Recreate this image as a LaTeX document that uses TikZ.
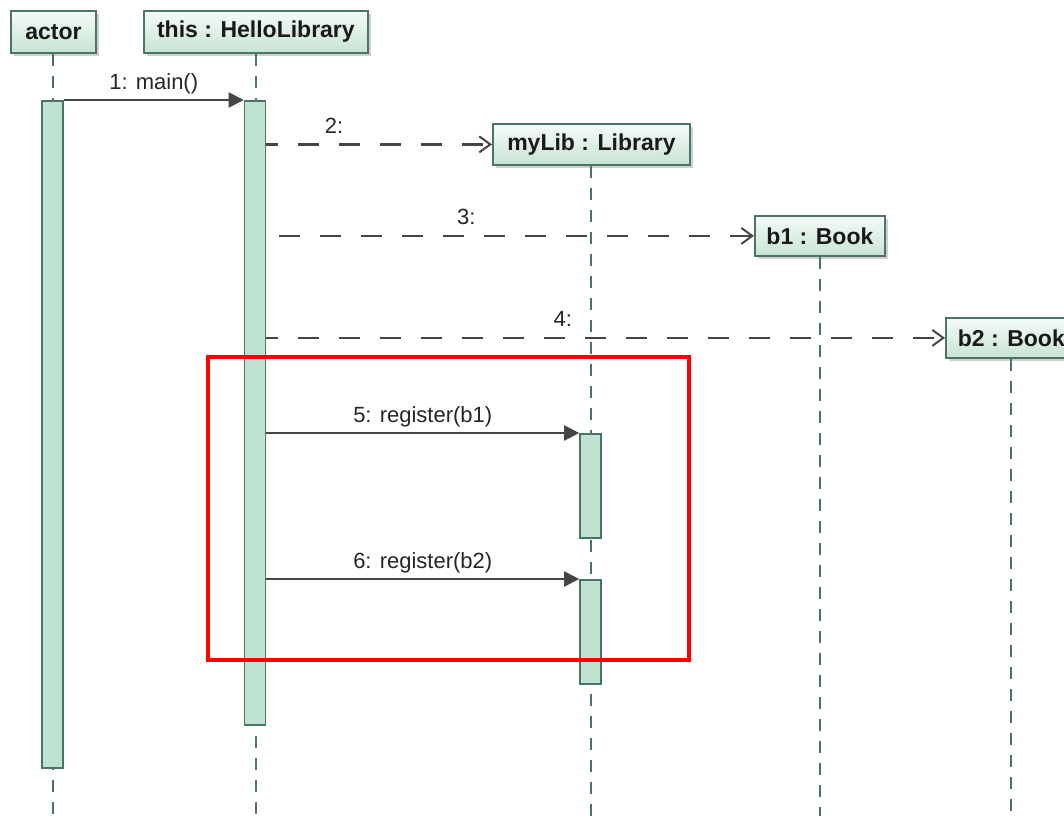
\documentclass[tikz,border=0pt]{standalone}
\usepackage{fontspec}
\setmainfont{Liberation Sans}
\usetikzlibrary{arrows.meta,shadows}
\definecolor{lifegreen}{HTML}{4A7564}
\definecolor{actfill}{HTML}{C0E2D0}
\definecolor{boxtop}{HTML}{F6FBF8}
\definecolor{boxbot}{HTML}{C6E3D4}
\definecolor{msggray}{HTML}{454545}
\definecolor{hired}{HTML}{FF0000}
\begin{document}
\begin{tikzpicture}[x=1pt,y=-1pt,
  objbox/.style={draw=lifegreen, line width=1.8pt, top color=boxtop, bottom color=boxbot,
    drop shadow={shadow xshift=3pt, shadow yshift=-3pt, fill=black!30, opacity=0.6},
    font=\fontsize{23}{27}\selectfont\bfseries, text=black!90, inner sep=0pt, anchor=north west},
  lifeline/.style={draw=lifegreen, line width=2pt, dash pattern=on 12pt off 10pt},
  actbar/.style={draw=lifegreen, fill=actfill, line width=1.6pt, minimum width=21pt,
    inner sep=0pt, anchor=north},
  syncmsg/.style={draw=msggray, line width=2pt, -{Triangle[length=15pt,width=15pt]}},
  createmsg/.style={draw=msggray, line width=2.3pt, dash pattern=on 21pt off 20pt, dash phase=9pt,
    -{Straight Barb[length=11pt,width=16pt,line width=2pt]}},
  msglabel/.style={font=\fontsize{22}{26}\selectfont, text=black!85, inner sep=2pt,
    text height=16pt, text depth=5pt, above=3pt}]
\clip (0,0) rectangle (1064,816);
\fill[white] (0,0) rectangle (1064,816);

% participant heads
\node[objbox, minimum width=85pt, minimum height=42pt] (actor) at (10,10) {actor};
\node[objbox, minimum width=224pt, minimum height=42pt] (hello) at (143,10) {this : HelloLibrary};
\node[objbox, minimum width=197pt, minimum height=41pt] (mylib) at (492,123) {myLib : Library};
\node[objbox, minimum width=130pt, minimum height=40pt] (bookone) at (754,215) {b1 : Book};
\node[objbox, minimum height=40pt, inner xsep=12pt] (booktwo) at (945,317) {b2 : Book};

% lifelines
\coordinate (bottom) at (0,816);
\draw[lifeline] (actor.south) -- (actor.south |- bottom);
\draw[lifeline] (hello.south) -- (hello.south |- bottom);
\draw[lifeline] (mylib.south) -- (mylib.south |- bottom);
\draw[lifeline] (bookone.south) -- (bookone.south |- bottom);
\draw[lifeline] (booktwo.south) -- (booktwo.south |- bottom);

% activation bars
\node[actbar, minimum height=667pt] (actorA) at (52.5,100) {};
\node[actbar, minimum height=624pt] (helloA) at (255,100) {};
\node[actbar, minimum height=104pt] (regA) at (590.5,433) {};
\node[actbar, minimum height=104pt] (regB) at (590.5,579) {};

% messages
\draw[syncmsg] (actorA.north east) -- (helloA.north west)
  node[msglabel, midway] {1: main()};
\draw[createmsg] (helloA.east |- mylib.west) -- (mylib.west)
  node[msglabel, pos=0.3] {2:};
\draw[createmsg, dash phase=28pt] (helloA.east |- bookone.west) -- (bookone.west)
  node[msglabel, pos=0.41] {3:};
\draw[createmsg] (helloA.east |- booktwo.west) -- (booktwo.west)
  node[msglabel, pos=0.437] {4:};
\draw[syncmsg] (helloA.east |- regA.north) -- (regA.north west)
  node[msglabel, midway] {5: register(b1)};
\draw[syncmsg] (helloA.east |- regB.north) -- (regB.north west)
  node[msglabel, midway] {6: register(b2)};

% highlight frame
\node[draw=hired, line width=4pt, minimum width=481pt, minimum height=303pt,
  inner sep=0pt, anchor=north west] (focus) at (206,355) {};
\end{tikzpicture}
\end{document}
